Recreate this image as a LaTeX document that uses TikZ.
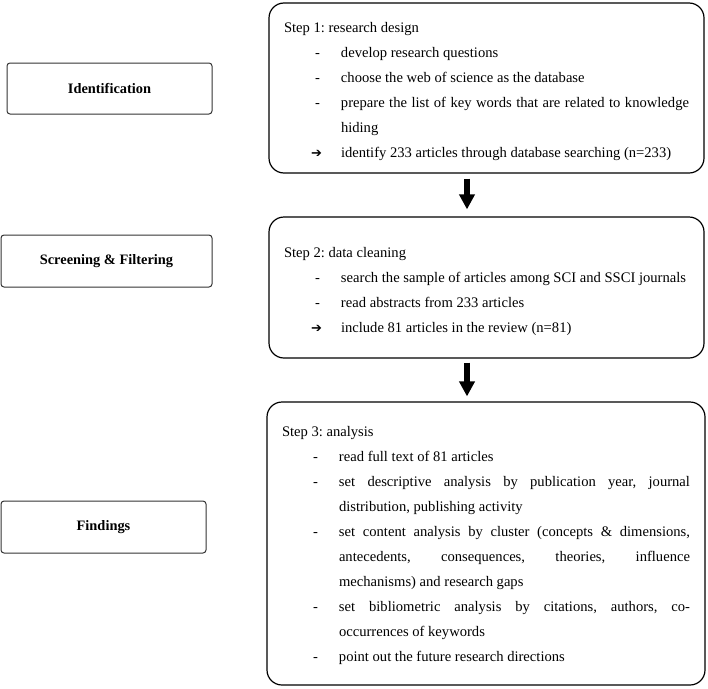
\documentclass[tikz,border=0pt]{standalone}
\usepackage{fontspec}
\setmainfont{Liberation Serif}
\newfontfamily\symfont{DejaVu Sans}
\usetikzlibrary{arrows.meta,calc}
\frenchspacing
\newcommand{\dashitem}{\par\hangindent=57pt\hangafter=1\noindent\hbox to 57pt{\hspace*{31pt}-\hfil}}
\newcommand{\arritem}{\par\hangindent=57pt\hangafter=1\noindent\hbox to 57pt{\hspace*{27pt}{\symfont\bfseries\fontsize{13}{25}\selectfont ➔}\hfil}}
\newcommand{\stephead}[2]{\noindent\rule{0pt}{#1}#2}
\tikzset{
  stepbox/.style={draw=black, line width=1.2pt, rounded corners=15pt, align=justify,
    inner sep=0pt, font=\fontsize{14.6}{25}\selectfont},
  labelbox/.style={draw=black!80, line width=1pt, rounded corners=3pt, align=center,
    inner sep=0pt, font=\bfseries\fontsize{14.4}{17}\selectfont},
  bigarrow/.style={line width=6pt, -{Triangle[width=15pt,length=15pt]}}
}
\begin{document}
\begin{tikzpicture}[x=1pt,y=-1pt]
\useasboundingbox (0,0) rectangle (708,688);
\node[labelbox, minimum width=205pt, minimum height=51pt] (l1) at (109.5,88.5) {Identification};
\node[labelbox, minimum width=211pt, minimum height=52pt] (l2) at (106.5,261) {Screening \& Filtering};
\node[labelbox, minimum width=205pt, minimum height=52pt] (l3) at (103.5,527) {Findings};

\node[stepbox, minimum width=435pt, minimum height=170pt, text width=405pt] (b1) at (486.5,88) {%
\stephead{17pt}{Step 1: research design}
\dashitem develop research questions
\dashitem choose the web of science as the database
\dashitem prepare the list of key words that are related to knowledge\linebreak hiding
\arritem identify 233 articles through database searching (n=233)\par};

\node[stepbox, minimum width=435pt, minimum height=141pt, text width=405pt] (b2) at (486.5,287.5) {%
\stephead{19pt}{Step 2: data cleaning}
\dashitem search the sample of articles among SCI and SSCI journals
\dashitem read abstracts from 233 articles
\arritem include 81 articles in the review (n=81)\par};

\node[stepbox, minimum width=438pt, minimum height=283pt, text width=408pt] (b3) at (486,543.5) {%
\stephead{14pt}{Step 3: analysis}
\dashitem read full text of 81 articles
\dashitem set descriptive analysis by publication year, journal\linebreak distribution, publishing activity
\dashitem set content analysis by cluster (concepts \& dimensions,\linebreak antecedents, consequences, theories, influence\linebreak mechanisms) and research gaps
\dashitem set bibliometric analysis by citations, authors, co-\linebreak occurrences of keywords
\dashitem point out the future research directions\par};

\coordinate (ax) at (467,0);
\draw[bigarrow, shorten <=5pt, shorten >=7pt] (b1.south -| ax) -- (b2.north -| ax);
\draw[bigarrow, shorten <=4pt, shorten >=5pt] (b2.south -| ax) -- (b3.north -| ax);
\end{tikzpicture}
\end{document}
